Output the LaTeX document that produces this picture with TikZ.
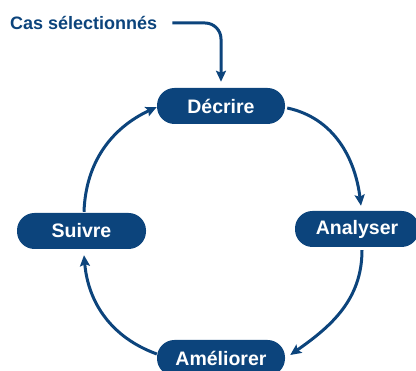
\documentclass[tikz,border=0pt]{standalone}
\usepackage{fontspec}
\setmainfont{Liberation Sans}
\usetikzlibrary{arrows.meta}
\definecolor{navy}{RGB}{12,68,124}
\tikzset{
  stagebox/.style={fill=navy, text=white, rounded corners=17.5pt, minimum width=128pt, minimum height=36pt, inner sep=0pt, font=\bfseries\fontsize{19.5}{22}\selectfont},
  flow/.style={draw=navy, line width=3pt, -{Stealth[length=11pt,width=10pt,inset=2pt]}},
}
\begin{document}
\begin{tikzpicture}[x=1pt,y=1pt]
\useasboundingbox (0,0) rectangle (416,371);
\node[stagebox] (decrire) at (221,265) {Décrire};
\node[stagebox, minimum width=124pt] (analyser) at (357,142) {Analyser};
\node[stagebox, minimum width=129pt] (suivre) at (81.5,140) {Suivre};
\node[stagebox] (ameliorer) at (221,13) {Améliorer};
\node[text=navy, font=\bfseries\fontsize{18}{21}\selectfont, inner sep=0pt, anchor=west] (cas) at (10,348) {Cas sélectionnés};
\coordinate (casstart) at ([xshift=15pt]cas.east);
\draw[flow, rounded corners=16pt] (casstart) -| ([yshift=6pt]decrire.north);
\draw[flow] ([shift={(2,-2)}]decrire.east) to[out=-12,in=97] ([shift={(4,5)}]analyser.north);
\draw[flow] ([shift={(5,-3)}]analyser.south) to[out=-90,in=35] ([shift={(5,3)}]ameliorer.east);
\draw[flow] ([yshift=4]ameliorer.west) to[out=160,in=-85] ([shift={(2.5,-6)}]suivre.south);
\draw[flow] ([shift={(2.5,1)}]suivre.north) to[out=88,in=-155] ([shift={(0,-1)}]decrire.west);
\end{tikzpicture}
\end{document}
